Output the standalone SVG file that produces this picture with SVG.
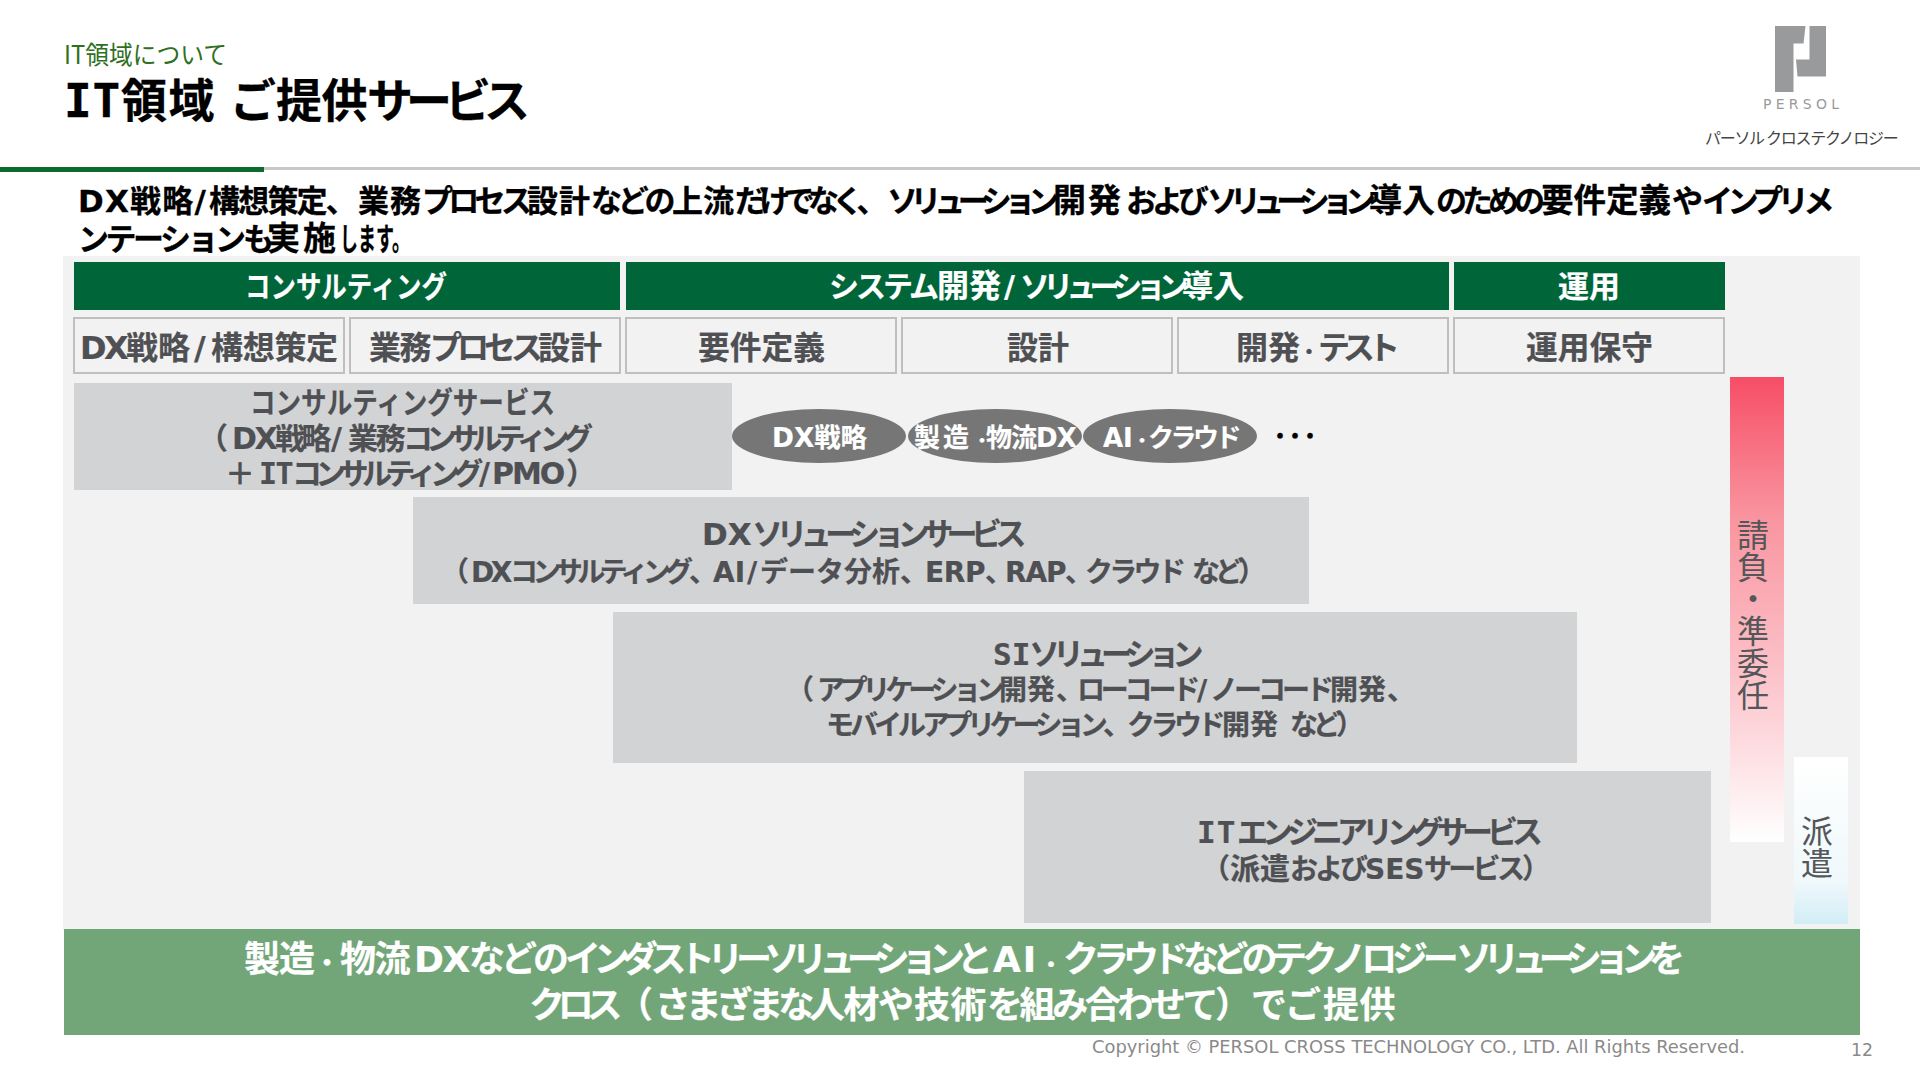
<svg xmlns="http://www.w3.org/2000/svg" width="1920" height="1080" viewBox="0 0 1920 1080">
<style>
text{font-family:"DejaVu Sans","Noto Sans CJK JP",sans-serif;font-weight:700}
.m{font-family:"DejaVu Sans Mono","Noto Sans CJK JP",monospace}
.hd{fill:#00663a}
.sub{fill:#f2f2f2;stroke:#bfbfbf;stroke-width:2}
.box{fill:#d2d3d5}
.ell{fill:#767676}
.w{fill:#fff;stroke:#fff;stroke-width:.2}
.g{fill:#4f5053;stroke:#4f5053;stroke-width:.2}
.k{fill:#000;stroke:#000;stroke-width:.3}
.v{font-weight:400;fill:#555659;font-size:32px;writing-mode:vertical-rl;font-family:"Noto Sans CJK JP",sans-serif}
</style>
<defs>
<linearGradient id="red" x1="0" y1="0" x2="0" y2="1"><stop offset="0" stop-color="#f64e66"/><stop offset="0.3" stop-color="#f9949f"/><stop offset="0.65" stop-color="#fcc4cb"/><stop offset="1" stop-color="#fff"/></linearGradient>
<linearGradient id="blue" x1="0" y1="0" x2="0" y2="1"><stop offset="0" stop-color="#fff"/><stop offset="0.75" stop-color="#eff8fb"/><stop offset="1" stop-color="#d2edf6"/></linearGradient>
</defs>
<rect width="1920" height="1080" fill="#fff"/>
<g id="header">
<text x="64" y="64" font-size="25" fill="#2f6f1e" style="font-weight:400;font-family:'Noto Sans CJK JP',sans-serif" textLength="163" lengthAdjust="spacingAndGlyphs">IT領域について</text>
<text class="k" y="117" font-size="46"><tspan class="m" x="64" letter-spacing=".8">IT</tspan><tspan x="121" letter-spacing="1.5">領域</tspan> <tspan x="230">ご</tspan><tspan x="276" letter-spacing="-.5">提供</tspan><tspan x="367" letter-spacing="-7">サービス</tspan></text>
<rect x="0" y="167" width="1920" height="3" fill="#c8c8c8"/>
<rect x="0" y="167" width="264" height="5" fill="#0b6b2e"/>
</g>
<g id="logo">
<path d="M1775 26H1805.500L1803.500 43.500H1793.500V92H1775Z M1809.500 26H1826V76.500H1797.500L1796 59.500H1809.500Z" fill="#999a9b"/>
<text x="1763" y="109" font-size="14" fill="#9a9a9a" style="font-weight:400" textLength="76" lengthAdjust="spacing">PERSOL</text>
<text x="1705" y="144" font-size="16" fill="#444" style="font-weight:400;font-family:'Noto Sans CJK JP',sans-serif" letter-spacing="-1.300">パーソル クロステクノロジー</text>
</g>
<g id="lead">
<text class="k" y="212" font-size="31"><tspan x="78" letter-spacing="1.2">DX戦略/</tspan><tspan x="209" letter-spacing="-1.800">構想策定、</tspan><tspan x="358" letter-spacing="1">業務</tspan><tspan x="422" letter-spacing="-4.700">プロセス</tspan><tspan x="527" letter-spacing="1">設計</tspan><tspan x="591" letter-spacing="-4.300">などの</tspan><tspan x="672">上流</tspan><tspan x="735" letter-spacing="-6.700">だけでなく、</tspan><tspan x="887" letter-spacing="-7.400">ソリューション</tspan><tspan x="1053" font-size="33" letter-spacing="2">開発</tspan><tspan x="1126" letter-spacing="-5">および</tspan><tspan x="1207" letter-spacing="-7.900">ソリューション</tspan><tspan x="1369" font-size="33">導入</tspan><tspan x="1436" letter-spacing="-5">のための</tspan><tspan x="1541" font-size="32.500">要件定義</tspan><tspan x="1672" letter-spacing="-1">や</tspan><tspan x="1702" letter-spacing="-5.400">インプリメ</tspan></text>
<text class="k" y="250" font-size="31"><tspan x="78" letter-spacing="-3.500">ンテーション</tspan><tspan x="243" letter-spacing="-8">も</tspan><tspan x="267" font-size="33" letter-spacing="3">実施</tspan><tspan x="340" textLength="70" lengthAdjust="spacingAndGlyphs">します。</tspan></text>
</g>
<rect id="panel" x="63" y="256" width="1797" height="674" fill="#f2f2f2"/>
<g id="phase-consulting"><rect class="hd" x="74" y="262" width="546" height="48"/><text class="w" x="245" y="297" font-size="30" textLength="202" lengthAdjust="spacingAndGlyphs">コンサルティング</text></g>
<g id="phase-dev"><rect class="hd" x="626" y="262" width="823" height="48"/><text class="w" y="297" font-size="30"><tspan x="829" letter-spacing="-3">システム</tspan><tspan x="937" font-size="32">開発</tspan><tspan x="1004">/</tspan><tspan x="1020" letter-spacing="-6.800">ソリューション</tspan><tspan x="1182" font-size="31">導入</tspan></text></g>
<g id="phase-ops"><rect class="hd" x="1454" y="262" width="271" height="48"/><text class="w" x="1558" y="297" font-size="30" textLength="62" lengthAdjust="spacingAndGlyphs">運用</text></g>
<g id="step-1"><rect class="sub" x="74" y="318" width="270" height="55"/><text class="g" y="359" font-size="32"><tspan x="80" letter-spacing="-2.500">DX</tspan><tspan x="126">戦略</tspan><tspan x="194">/</tspan><tspan x="211" letter-spacing="-.3">構想策定</tspan></text></g>
<g id="step-2"><rect class="sub" x="350" y="318" width="270" height="55"/><text class="g" y="359" font-size="32"><tspan x="369" letter-spacing="-1.500">業務</tspan><tspan x="430" letter-spacing="-5">プロセス</tspan><tspan x="538">設計</tspan></text></g>
<g id="step-3"><rect class="sub" x="626" y="318" width="270" height="55"/><text class="g" x="698" y="359" font-size="32" textLength="127" lengthAdjust="spacingAndGlyphs">要件定義</text></g>
<g id="step-4"><rect class="sub" x="902" y="318" width="270" height="55"/><text class="g" x="1007" y="359" font-size="32" textLength="62" lengthAdjust="spacingAndGlyphs">設計</text></g>
<g id="step-5"><rect class="sub" x="1178" y="318" width="270" height="55"/><text class="g" y="359" font-size="32"><tspan x="1236">開発</tspan><tspan x="1299" font-size="20" letter-spacing="-1">・</tspan><tspan x="1318" letter-spacing="-7">テスト</tspan></text></g>
<g id="step-6"><rect class="sub" x="1454" y="318" width="270" height="55"/><text class="g" x="1526" y="359" font-size="32" textLength="127" lengthAdjust="spacingAndGlyphs">運用保守</text></g>
<g id="svc-consulting"><rect class="box" x="74" y="383" width="658" height="107"/>
<text class="g" x="250" y="413" font-size="30" textLength="305" lengthAdjust="spacingAndGlyphs">コンサルティングサービス</text>
<text class="g" y="449" font-size="30"><tspan x="198">（</tspan><tspan x="232" letter-spacing="-2.500">DX</tspan><tspan x="275" letter-spacing="-3.500">戦略</tspan><tspan x="331">/</tspan><tspan x="348" letter-spacing="-2.500">業務</tspan><tspan x="403" letter-spacing="-6.900">コンサルティング</tspan></text>
<text class="g" y="484" font-size="30"><tspan x="225">＋</tspan><tspan class="m" x="259" letter-spacing="-1.500">IT</tspan><tspan x="292" letter-spacing="-6.700">コンサルティング</tspan><tspan x="479">/</tspan><tspan x="492" letter-spacing="-2">PMO</tspan><tspan x="566">）</tspan></text></g>
<g id="pill-1"><ellipse class="ell" cx="819" cy="436" rx="87" ry="27"/><text class="w" x="772" y="447" font-size="26" textLength="95" lengthAdjust="spacingAndGlyphs">DX戦略</text></g>
<g id="pill-2"><ellipse class="ell" cx="995" cy="436" rx="87" ry="27"/><text class="w" y="447" font-size="26"><tspan x="914" letter-spacing="3">製造</tspan><tspan x="973" font-size="18" letter-spacing="-5">・</tspan><tspan x="986" letter-spacing="-1">物流</tspan><tspan x="1036" letter-spacing="-.8">DX</tspan></text></g>
<g id="pill-3"><ellipse class="ell" cx="1170" cy="436" rx="87" ry="27"/><text class="w" y="447" font-size="26"><tspan x="1103">AI</tspan><tspan x="1133" font-size="18" letter-spacing="-3">・</tspan><tspan x="1148" letter-spacing="-3.500">クラウド</tspan></text></g>
<g id="more"><text class="k" x="1273" y="447" font-size="28" textLength="44" lengthAdjust="spacing">･･･</text></g>
<g id="svc-dx"><rect class="box" x="413" y="497" width="896" height="107"/>
<text class="g" y="545" font-size="31"><tspan x="702">DX</tspan><tspan x="752" letter-spacing="-6.600">ソリューションサービス</tspan></text>
<text class="g" y="582" font-size="28"><tspan x="441">（</tspan><tspan x="471" letter-spacing="-3.400">DX</tspan><tspan x="510" letter-spacing="-5.600">コンサルティング</tspan><tspan x="689" letter-spacing="-4">、</tspan><tspan x="713">AI</tspan><tspan x="747">/</tspan><tspan x="760">データ分析</tspan><tspan x="900" letter-spacing="-4">、</tspan><tspan x="925" letter-spacing="-.4">ERP</tspan><tspan x="985" letter-spacing="-8">、</tspan><tspan x="1005" letter-spacing="-1.100">RAP</tspan><tspan x="1065" letter-spacing="-8">、</tspan><tspan x="1085" letter-spacing="-3.700">クラウド</tspan> <tspan x="1192" letter-spacing="-5">など</tspan><tspan x="1238">）</tspan></text></g>
<g id="svc-si"><rect class="box" x="613" y="612" width="964" height="151"/>
<text class="g" y="665" font-size="31"><tspan class="m" x="993">SI</tspan><tspan x="1029" letter-spacing="-7">ソリューション</tspan></text>
<text class="g" y="700" font-size="28"><tspan x="786">（</tspan><tspan x="817" letter-spacing="-5.200">アプリケーション</tspan><tspan x="999">開発</tspan><tspan x="1056" letter-spacing="-7">、</tspan><tspan x="1077" letter-spacing="-4.200">ローコード</tspan><tspan x="1197">/</tspan><tspan x="1210" letter-spacing="-4">ノーコード</tspan><tspan x="1330">開発</tspan><tspan x="1387">、</tspan></text>
<text class="g" y="735" font-size="28"><tspan x="826" letter-spacing="-4">モバイル</tspan><tspan x="922" letter-spacing="-5.400">アプリケーション</tspan><tspan x="1103" letter-spacing="-4">、</tspan><tspan x="1127" letter-spacing="-4.500">クラウド</tspan><tspan x="1222">開発</tspan> <tspan x="1290" letter-spacing="-5">など</tspan><tspan x="1336">）</tspan></text></g>
<g id="svc-it"><rect class="box" x="1024" y="771" width="687" height="152"/>
<text class="g" y="843" font-size="31"><tspan class="m" x="1197" letter-spacing="1">IT</tspan><tspan x="1237" letter-spacing="-6">エンジニアリングサービス</tspan></text>
<text class="g" y="879" font-size="28"><tspan x="1202">（</tspan><tspan x="1230" font-size="30">派遣</tspan><tspan x="1290" letter-spacing="-3">および</tspan><tspan x="1365">SES</tspan><tspan x="1424" letter-spacing="-3.700">サービス</tspan><tspan x="1522">）</tspan></text></g>
<g id="bar-contract"><rect x="1730" y="377" width="54" height="465" fill="url(#red)"/><text class="v" x="1753" y="519">請負・準委任</text></g>
<g id="bar-dispatch"><rect x="1794" y="757" width="54" height="167" fill="url(#blue)"/><text class="v" x="1817" y="815">派遣</text></g>
<g id="banner"><rect x="64" y="929" width="1796" height="106" fill="#72a678"/>
<text class="w" y="972" font-size="36"><tspan x="244" letter-spacing="-1">製造</tspan><tspan x="314" font-size="26">・</tspan><tspan x="340" letter-spacing="-1.500">物流</tspan><tspan x="414" letter-spacing="-1.400">DX</tspan><tspan x="469" letter-spacing="-4">などの</tspan><tspan x="565" letter-spacing="-7.500">インダストリー</tspan><tspan x="764" letter-spacing="-8.400">ソリューション</tspan><tspan x="957" letter-spacing="-2">と</tspan><tspan x="993" letter-spacing="2">AI</tspan><tspan x="1040" font-size="22">・</tspan><tspan x="1063" letter-spacing="-6">クラウド</tspan><tspan x="1183" letter-spacing="-6.700">などの</tspan><tspan x="1271" letter-spacing="-5.200">テクノロジー</tspan><tspan x="1456" letter-spacing="-8.400">ソリューション</tspan><tspan x="1649">を</tspan></text>
<text class="w" y="1018" font-size="36"><tspan x="529" letter-spacing="-7.300">クロス</tspan><tspan x="617">（</tspan><tspan x="655" letter-spacing="-5.200">さまざまな</tspan><tspan x="809" letter-spacing="-1.500">人材</tspan><tspan x="878">や</tspan><tspan x="914" letter-spacing=".5">技術</tspan><tspan x="987" letter-spacing="-3.400">を組み合わせて</tspan><tspan x="1215">）</tspan><tspan x="1251" letter-spacing="-2">でご</tspan><tspan x="1323" letter-spacing=".5">提供</tspan></text></g>
<g id="footer">
<text x="1092" y="1053" font-size="18" fill="#8a8a8a" style="font-weight:400" textLength="653" lengthAdjust="spacingAndGlyphs">Copyright © PERSOL CROSS TECHNOLOGY CO., LTD. All Rights Reserved.</text>
<text x="1851" y="1056" font-size="17" fill="#8a8a8a" style="font-weight:400" textLength="22" lengthAdjust="spacingAndGlyphs">12</text>
</g>
</svg>
